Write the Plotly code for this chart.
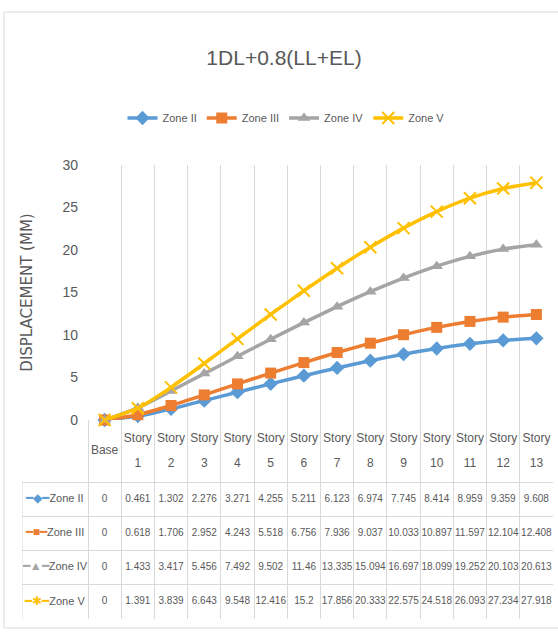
import plotly.graph_objects as go

# ---------------- data ----------------
categories = ["Base", "Story 1", "Story 2", "Story 3", "Story 4", "Story 5", "Story 6",
              "Story 7", "Story 8", "Story 9", "Story 10", "Story 11", "Story 12", "Story 13"]
zone_ii = [0, 0.461, 1.302, 2.276, 3.271, 4.255, 5.211, 6.123, 6.974, 7.745, 8.414, 8.959, 9.359, 9.608]
zone_iii = [0, 0.618, 1.706, 2.952, 4.243, 5.518, 6.756, 7.936, 9.037, 10.033, 10.897, 11.597, 12.104, 12.408]
zone_iv = [0, 1.433, 3.417, 5.456, 7.492, 9.502, 11.46, 13.335, 15.094, 16.697, 18.099, 19.252, 20.103, 20.613]
zone_v = [0, 1.391, 3.839, 6.643, 9.548, 12.416, 15.2, 17.856, 20.333, 22.575, 24.518, 26.093, 27.234, 27.918]
series_names = ["Zone II", "Zone III", "Zone IV", "Zone V"]
y_ticks = [0, 5, 10, 15, 20, 25, 30]
chart_title = "1DL+0.8(LL+EL)"
y_title = "DISPLACEMENT (MM)"

# ---------------- styles ----------------
series_values = [zone_ii, zone_iii, zone_iv, zone_v]
colors = ["#5B9BD5", "#ED7D31", "#A5A5A5", "#FFC000"]
symbols = ["diamond", "square", "triangle-up", "x-thin"]
sizes = [11, 11, 11, 12]
glyphs = ["\u25C6", "\u25A0", "\u25B2", "\u2731"]
FONT = "Liberation Sans, Arial, sans-serif"
TXT = "#595959"
GRID = "#D9D9D9"

W, H = 558, 633
PL, PR, PT, PB = 88, 553, 165, 420     # plot area (px)
TL, HB, TB = 22, 482, 619              # table left, header bottom, table bottom (px)

n = len(categories)
cw = (PR - PL) / n
x_idx = list(range(n))
bounds = [i - 0.5 for i in range(n + 1)]
table_x0 = -0.5 - (PL - TL) / cw
row_h = (TB - HB) / len(series_names)
hdr_units = (HB - PB) / row_h
hdr_center = -0.5 - hdr_units / 2
line_off = 12.5 / row_h

fig = go.Figure()

for name, vals, c, s, sz in zip(series_names, series_values, colors, symbols, sizes):
    mk = dict(symbol=s, size=sz, color=c)
    if s == "x-thin":
        mk["line"] = dict(color=c, width=2)
    fig.add_trace(go.Scatter(
        x=x_idx, y=vals, name=name, mode="lines+markers",
        line=dict(color=c, width=3.5, shape="spline", smoothing=0.6),
        marker=mk, cliponaxis=False, xaxis="x", yaxis="y"))

# header row of the data table
top_txt, bot_txt, mid_txt = [], [], []
for cat in categories:
    parts = cat.split(" ")
    if len(parts) == 2:
        top_txt.append(parts[0]); bot_txt.append(parts[1]); mid_txt.append("")
    else:
        top_txt.append(""); bot_txt.append(""); mid_txt.append(cat)
hdr_font = dict(family=FONT, size=12, color=TXT)
for txt, dy in ((top_txt, -line_off), (bot_txt, line_off), (mid_txt, 0)):
    fig.add_trace(go.Scatter(x=x_idx, y=[hdr_center + dy] * n, text=txt, mode="text",
                             textfont=hdr_font, showlegend=False, hoverinfo="skip",
                             cliponaxis=False, xaxis="x2", yaxis="y2"))

# data rows
for r, (name, vals, c, g) in enumerate(zip(series_names, series_values, colors, glyphs)):
    fig.add_trace(go.Scatter(x=x_idx, y=[r] * n, text=[f"{v:g}" for v in vals], mode="text",
                             textfont=dict(family=FONT, size=10, color=TXT),
                             showlegend=False, hoverinfo="skip", cliponaxis=False,
                             xaxis="x2", yaxis="y2"))
    label = (f"<span style='color:{c};font-size:12px'>\u2501{g}\u2501</span>{name}")
    fig.add_trace(go.Scatter(x=[(table_x0 - 0.5) / 2], y=[r], text=[label], mode="text",
                             textfont=dict(family=FONT, size=11, color=TXT),
                             showlegend=False, hoverinfo="skip", cliponaxis=False,
                             xaxis="x2", yaxis="y2"))

fig.update_layout(
    template="none",
    width=W, height=H, margin=dict(l=0, r=0, t=0, b=0, pad=0, autoexpand=False),
    paper_bgcolor="white", plot_bgcolor="white",
    title=dict(text=chart_title, x=284 / W, xanchor="center", y=1 - 58 / H, yanchor="middle",
               automargin=False, font=dict(family=FONT, size=21, color=TXT)),
    legend=dict(orientation="h", x=286 / W, xanchor="center", y=1 - 118 / H, yanchor="middle",
                font=dict(family=FONT, size=11, color=TXT), itemwidth=30,
                bgcolor="rgba(0,0,0,0)"),
    xaxis=dict(domain=[PL / W, PR / W], range=[-0.5, n - 0.5], tickvals=bounds,
               showticklabels=False, showgrid=True, gridcolor=GRID, gridwidth=1, ticks="",
               zeroline=False, showline=False, anchor="y", automargin=False),
    yaxis=dict(domain=[1 - PB / H, 1 - PT / H], range=[0, 30], tickvals=y_ticks, ticks="",
               showgrid=False, zeroline=False, showline=False, anchor="x", automargin=False,
               tickfont=dict(family=FONT, size=14, color=TXT), ticklabelstandoff=9,
               title=dict(text=y_title, standoff=26,
                          font=dict(family="DejaVu Sans, sans-serif", size=15, color=TXT))),
    xaxis2=dict(domain=[TL / W, PR / W], range=[table_x0, n - 0.5], tickvals=bounds, ticks="",
                showticklabels=False, showgrid=True, gridcolor=GRID, gridwidth=1,
                zeroline=False, showline=False, anchor="y2", automargin=False),
    yaxis2=dict(domain=[1 - TB / H, 1 - PB / H], range=[len(series_names) - 0.5, -0.5 - hdr_units],
                tickvals=[r - 0.5 for r in range(len(series_names) + 1)], ticks="",
                showticklabels=False, showgrid=True, gridcolor=GRID, gridwidth=1,
                zeroline=False, showline=False, anchor="x2", automargin=False),
    shapes=[
        dict(type="line", xref="x2", yref="y2", x0=table_x0, x1=table_x0,
             y0=-0.5, y1=len(series_names) - 0.5, line=dict(color=GRID, width=1)),
        dict(type="rect", xref="paper", yref="paper", x0=4 / W, x1=1.02,
             y0=1 - 628 / H, y1=1 - 12 / H, line=dict(color=GRID, width=1), layer="below"),
    ],
)

fig.write_html("out.html")
